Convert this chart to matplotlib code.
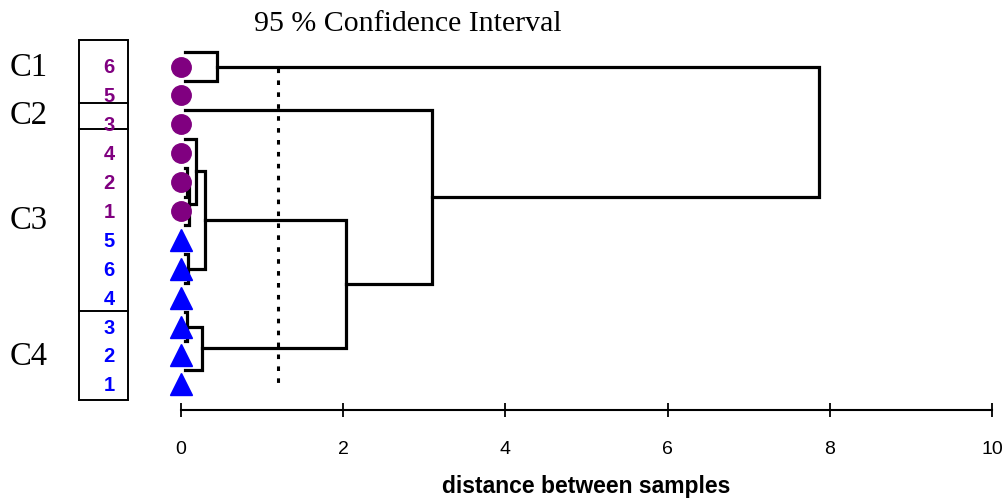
import numpy as np
import matplotlib.pyplot as plt
from matplotlib.patches import Rectangle

# samples in leaf order (top to bottom)
sample_labels = ['6', '5', '3', '4', '2', '1', '5', '6', '4', '3', '2', '1']
sample_group = ['a', 'a', 'a', 'a', 'a', 'a', 'b', 'b', 'b', 'b', 'b', 'b']

# merges: left child, right child, distance (leaves 0..11, new nodes 12..)
merge_left = [0, 4, 13, 3, 7, 15, 9, 18, 17, 2, 12]
merge_right = [1, 5, 6, 14, 8, 16, 10, 11, 19, 20, 21]
merge_dist = [0.45, 0.08, 0.10, 0.19, 0.09, 0.29, 0.07, 0.26, 2.04, 3.10, 7.87]

conf_limit = 1.2

cluster_names = ['C1', 'C2', 'C3', 'C4']
cluster_label_y = [0.05, 1.7, 5.35, 10.05]
cluster_edges = [1.26, 2.16, 8.46]

purple = '#800080'
blue = '#0000ff'

fig = plt.figure(figsize=(10.08, 4.99), dpi=100)
ax = fig.add_axes([181/1008, 1-410/499, 811/1008, 370/499])
ax.set_xlim(0, 10)
ax.set_ylim(11.886, -0.917)

n = len(sample_labels)
pos = {i: i - 0.5 for i in range(n)}
hgt = {i: 0.05 for i in range(n)}
for k, (l, r, d) in enumerate(zip(merge_left, merge_right, merge_dist)):
    node = n + k
    ax.plot([hgt[l], d, d, hgt[r]], [pos[l], pos[l], pos[r], pos[r]],
            color='black', lw=2.3, solid_joinstyle='miter', clip_on=False)
    pos[node] = (pos[l] + pos[r]) / 2
    hgt[node] = d

# leaves
for i, g in enumerate(sample_group):
    if g == 'a':
        ax.plot(0, i, 'o', color=purple, ms=14, clip_on=False, zorder=3)
    else:
        ax.plot(0, i, '^', color=blue, ms=16, clip_on=False, zorder=3)

# confidence interval line
ax.plot([conf_limit, conf_limit], [0.05, 10.95], color='black', lw=2.2,
        linestyle=(0, (1.5, 2.4)))

# sample box
bx0, bx1 = (79-181)/81.1, (128-181)/81.1
ax.add_patch(Rectangle((bx0, -0.92), bx1-bx0, 12.46, fill=False, lw=1.4,
                       ec='black', clip_on=False))
for e in cluster_edges:
    ax.plot([bx0, bx1], [e, e], color='black', lw=1.4, clip_on=False)
for i, (lab, g) in enumerate(zip(sample_labels, sample_group)):
    ax.text(-0.888, i + 0.05, lab, ha='center', va='center', fontsize=14.5,
            fontweight='bold', color=purple if g == 'a' else blue,
            family='Liberation Sans')
for name, y in zip(cluster_names, cluster_label_y):
    ax.text(-1.874, y, name, ha='center', va='center', fontsize=23.5,
            family='Liberation Serif')

for s in ['top', 'left', 'right']:
    ax.spines[s].set_visible(False)
ax.spines['bottom'].set_linewidth(1.5)
ax.set_yticks([])
ax.set_xticks(np.arange(0, 11, 2))
ax.tick_params(axis='x', direction='inout', length=10, width=1.3, pad=17,
               labelsize=14)
for t in ax.get_xticklabels():
    t.set_family('Liberation Sans')

fig.text(408/1008, 1-24/499, '95 % Confidence Interval', ha='center',
         va='center', fontsize=21.5, family='Liberation Serif')
fig.text(586/1008, 1-487/499, 'distance between samples', ha='center',
         va='center', fontsize=16.5, fontweight='bold', family='Liberation Sans')

fig.savefig('out.png', dpi=100)
